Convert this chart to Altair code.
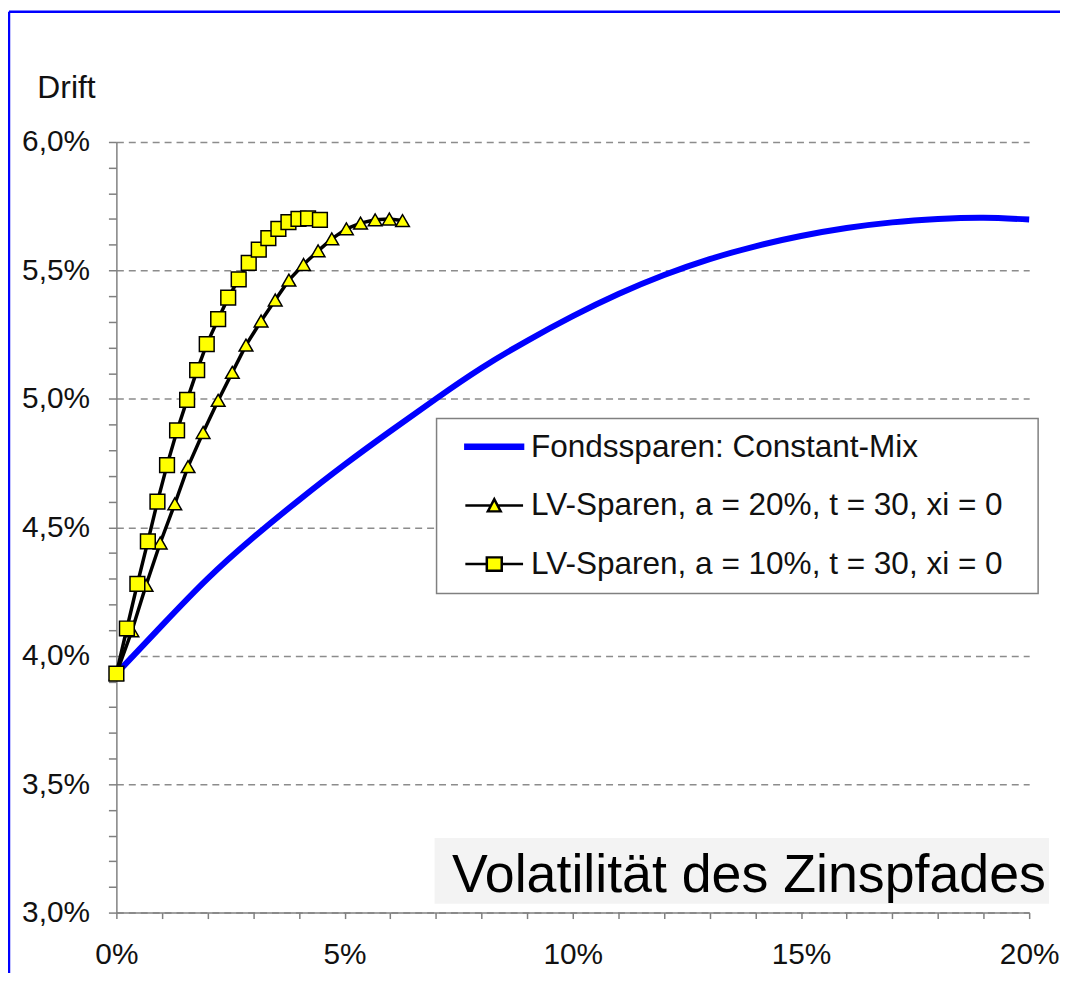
import altair as alt
import pandas as pd

FONT = "Liberation Sans, Arial, sans-serif"

series_names = [
    "Fondssparen: Constant-Mix",
    "LV-Sparen, a = 20%, t = 30, xi = 0",
    "LV-Sparen, a = 10%, t = 30, xi = 0",
]

# Fondssparen: Constant-Mix (volatility in %, drift in %)
blue_x = [0, 1, 2, 3, 4, 5, 6, 7, 8, 9, 10, 11, 12, 13, 14, 15, 16, 17, 18, 19, 20]
blue_y = [3.93, 4.118, 4.300, 4.460, 4.606, 4.744, 4.874, 5.000, 5.120, 5.226, 5.322,
          5.408, 5.482, 5.544, 5.594, 5.634, 5.665, 5.687, 5.700, 5.705, 5.698]

# LV-Sparen, a = 20%
tri_x = [0.00, 0.34, 0.65, 0.96, 1.28, 1.57, 1.90, 2.23, 2.54, 2.84, 3.17,
         3.48, 3.78, 4.10, 4.42, 4.72, 5.04, 5.35, 5.67, 5.98, 6.27]
tri_y = [3.93, 4.097, 4.274, 4.439, 4.591, 4.736, 4.869, 4.994, 5.103, 5.209, 5.303,
         5.385, 5.462, 5.523, 5.576, 5.623, 5.662, 5.684, 5.697, 5.700, 5.694]

# LV-Sparen, a = 10%
sq_x = [0.00, 0.23, 0.46, 0.69, 0.90, 1.11, 1.33, 1.55, 1.77, 1.98, 2.23,
        2.45, 2.68, 2.90, 3.12, 3.33, 3.55, 3.77, 3.99, 4.20, 4.46]
sq_y = [3.93, 4.106, 4.28, 4.445, 4.60, 4.742, 4.877, 4.996, 5.112, 5.213, 5.31,
        5.394, 5.465, 5.529, 5.581, 5.626, 5.662, 5.688, 5.701, 5.703, 5.697]

x_ticks = list(range(0, 21))
y_ticks = [round(3 + i * 0.1, 1) for i in range(31)]

rows = []
for name, xs, ys in [(series_names[0], blue_x, blue_y),
                     (series_names[1], tri_x, tri_y),
                     (series_names[2], sq_x, sq_y)]:
    for xv, yv in zip(xs, ys):
        rows.append({"series": name, "vol": xv, "drift": yv})
df = pd.DataFrame(rows)

x_enc = alt.X(
    "vol:Q",
    scale=alt.Scale(domain=[0, 20], nice=False, zero=False),
    axis=alt.Axis(
        values=x_ticks,
        labelExpr="datum.value % 5 == 0 ? datum.value + '%' : ''",
        grid=False,
        tickSize=6, tickColor="#808080", tickWidth=1.5,
        domainColor="#808080", domainWidth=1.5,
        labelFont=FONT, labelFontSize=30, labelColor="#111111", labelPadding=21,
        labelFlush=False, labelOverlap=False,
        title="Volatilität des Zinspfades",
        titleFont=FONT, titleFontSize=54, titleFontWeight="normal", titleColor="#000000",
        titleX=337, titleY=-21, titleAlign="left", titleBaseline="alphabetic",
        titleAnchor="start",
        zindex=1,
    ),
)

y_enc = alt.Y(
    "drift:Q",
    scale=alt.Scale(domain=[3, 6], nice=False, zero=False),
    axis=alt.Axis(
        values=y_ticks,
        labelExpr="abs(datum.value*2 - round(datum.value*2)) < 0.01 ? replace(format(datum.value, '.1f'), '.', ',') + '%' : ''",
        grid=True, gridDash=[7, 5], gridColor="#8c8c8c", gridWidth=1.5,
        gridOpacity={"condition": {"test": "abs(datum.value*2 - round(datum.value*2)) < 0.01", "value": 1}, "value": 0},
        tickSize=8, tickColor="#808080", tickWidth=1.5,
        domainColor="#808080", domainWidth=1.5,
        labelFont=FONT, labelFontSize=30, labelColor="#111111", labelPadding=19,
        labelOverlap=False,
        title="Drift", titleAngle=0,
        titleFont=FONT, titleFontSize=32, titleFontWeight="normal", titleColor="#111111",
        titleX=-80, titleY=-45, titleAlign="left", titleBaseline="alphabetic",
    ),
)

base = alt.Chart(df)

blue_line = base.transform_filter(
    alt.datum.series == series_names[0]
).mark_line(color="#0000ff", strokeWidth=6, interpolate="natural").encode(x=x_enc, y=y_enc)

black_lines = base.transform_filter(
    alt.datum.series != series_names[0]
).mark_line(color="#000000", strokeWidth=3.5).encode(x=x_enc, y=y_enc, detail="series:N")

tri_pts = base.transform_filter(
    alt.datum.series == series_names[1]
).mark_point(shape="triangle-up", filled=True, fill="#ffff00", stroke="#000000",
             strokeWidth=1.5, size=190, opacity=1).encode(x=x_enc, y=y_enc)

sq_pts = base.transform_filter(
    alt.datum.series == series_names[2]
).mark_point(shape="square", filled=True, fill="#ffff00", stroke="#000000",
             strokeWidth=1.5, size=220, opacity=1).encode(x=x_enc, y=y_enc)

# legend symbols: line with marker, as custom paths (unit = 15px)
path_blue = "M0.03,-0.13H3.9V0.13H0.03Z"
path_tri = "M0.03,0H1.76M2.18,0H3.9M1.54,0.4L1.97,-0.42L2.40,0.4Z"
path_sq = "M0.03,0H1.47M2.47,0H3.9M1.47,-0.45H2.47V0.45H1.47Z"

leg = alt.Legend(
    title=None, orient="none", legendX=322, legendY=278,
    fillColor="#ffffff", strokeColor="#808080",
    padding=12, symbolSize=900, symbolStrokeWidth=2.5,
    labelFont=FONT, labelFontSize=31.7, labelColor="#111111",
    rowPadding=25, labelOffset=50, labelLimit=0,
    labelExpr="datum.label + '\u2800'",
)

legend_layer = base.transform_filter("false").mark_point(
    filled=True, opacity=1, strokeWidth=2.5
).encode(
    shape=alt.Shape("series:N", scale=alt.Scale(domain=series_names, range=[path_blue, path_tri, path_sq]), legend=leg),
    fill=alt.Fill("series:N", scale=alt.Scale(domain=series_names, range=["#0000ff", "#ffff00", "#ffff00"]), legend=leg),
    stroke=alt.Stroke("series:N", scale=alt.Scale(domain=series_names, range=["#0000ff", "#000000", "#000000"]), legend=leg),
)

label_bg = alt.Chart(pd.DataFrame({"k": [0]})).mark_rect(color="#f3f3f3").encode(
    x=alt.value(320), x2=alt.value(938), y=alt.value(700), y2=alt.value(766)
)

frame_top = alt.Chart(pd.DataFrame({"k": [0]})).mark_rule(color="#0000ff", strokeWidth=2.5).encode(
    x=alt.value(-108), x2=alt.value(960), y=alt.value(-131)
)
frame_left = alt.Chart(pd.DataFrame({"k": [0]})).mark_rule(color="#0000ff", strokeWidth=2.5).encode(
    x=alt.value(-108), y=alt.value(-131), y2=alt.value(900)
)

chart = alt.layer(
    label_bg, blue_line, black_lines, tri_pts, sq_pts, legend_layer, frame_top, frame_left
).properties(
    width=918, height=775,
    padding={"left": 109, "top": 132, "right": 31, "bottom": 58},
    autosize=alt.AutoSizeParams(type="none"),
    background="#ffffff",
).configure_view(stroke=None).configure_legend(strokeWidth=1.5)

chart.save("out.html", embed_options={"renderer": "svg", "actions": False})
